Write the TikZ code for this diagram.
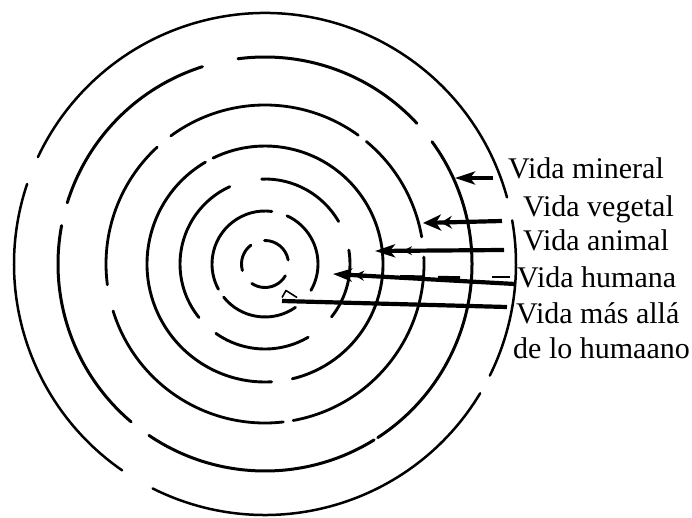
\documentclass[tikz,border=0pt]{standalone}
\usepackage{fontspec}
\setmainfont{Liberation Serif}
\usetikzlibrary{arrows.meta,calc}
\begin{document}
\begin{tikzpicture}[x=1pt,y=1pt,
  ring/.style={line width=2.8pt, line cap=round},
  shaft/.style={line width=4.2pt},
  lab/.style={font=\fontsize{30}{35}\selectfont, inner sep=0pt, anchor=base west}]
\useasboundingbox (0,0) rectangle (692,517);
\coordinate (c) at (265,253);
% concentric broken rings: radius / start / end / width
\foreach \r/\a/\b/\w in {
 251/15.4/154.8/2.5, 251/161.4/235.3/2.5, 251/243.4/329/2.5, 251/333.6/370/2.5,
 207/42.8/97.5/3, 207/107.6/162.8/3, 207/169.3/229.7/3, 207/235.9/301.8/3, 207/303/396.2/3,
 159/9.8/50.4/2.8, 159/54.1/126.3/2.8, 159/132.7/187.5/2.8, 159/197.2/276.6/2.8, 159/280.2/362.5/2.8,
 118/120.3/273.2/2.9, 118/283.4/476.1/2.9,
 85/30/92.2/2.9, 85/114.5/219/2.9, 85/234.7/300.5/2.9, 85/321.5/369.4/2.9,
 53/82.6/208.4/2.9, 53/218.7/305.1/2.9, 53/330.2/425.4/2.9,
 23.5/10/91/2.9, 23.5/127/196/2.9, 23.5/236/330/2.9}
 \draw[ring, line width=\w pt] (c) ++(\a:\r pt) arc[start angle=\a, end angle=\b, radius=\r pt];
% labels
\node[lab] (lm) at (508,338) {Vida mineral};
\node[lab] (lv) at (523,300) {Vida vegetal};
\node[lab] (la) at (523,266) {Vida animal};
\node[lab] (lh) at (517,230) {Vida humana};
\node[lab] (lx) at (516,194) {\vtop{\baselineskip=35pt\hbox{Vida más allá}\hbox{\kern-3pt de lo humaano}}};
% arrow tips
\coordinate (tm) at (455,339);
\coordinate (tv) at (423,294);
\coordinate (ta) at (375,266);
\coordinate (th) at (333,243);
\coordinate (tx) at (282,216);
% connectors
\draw[shaft, -{Stealth[length=20pt,width=13pt,inset=5pt]}] ($(lm.base west)+(-15,1)$) -- (tm);
\draw[shaft, -{Stealth[length=11pt,width=13pt,inset=4pt] Stealth[length=18pt,width=16pt,inset=5pt]}] ($(lv.base west)+(-21,-4)$) -- (tv);
\draw[shaft, -{Stealth[length=9pt,width=9pt,inset=3pt,sep=8pt] Stealth[length=20pt,width=13pt,inset=5pt]}] ($(la.base west)+(-19,1)$) -- (ta);
\draw[shaft, -{Stealth[length=10pt,width=10pt,inset=3pt,sep=2pt] Stealth[length=19pt,width=13pt,inset=5pt]}] ($(lh.base west)+(-2,3)$) -- (th);
\draw[shaft] ($(lx.base west)+(-9,16)$) -- (tx);
\draw[line width=1.6pt, line join=round] ($(tx)+(0,3.5)$) -- ++(4,7) -- ++(11,-7);
% smudges along the "Vida humana" line
\draw[line width=2.8pt] (400,240.6) -- (423,240.2);
\draw[line width=2.8pt] (438,239.8) -- (460,239.4);
\draw[line width=2.5pt] (492,240) -- (510,240);
\end{tikzpicture}
\end{document}
